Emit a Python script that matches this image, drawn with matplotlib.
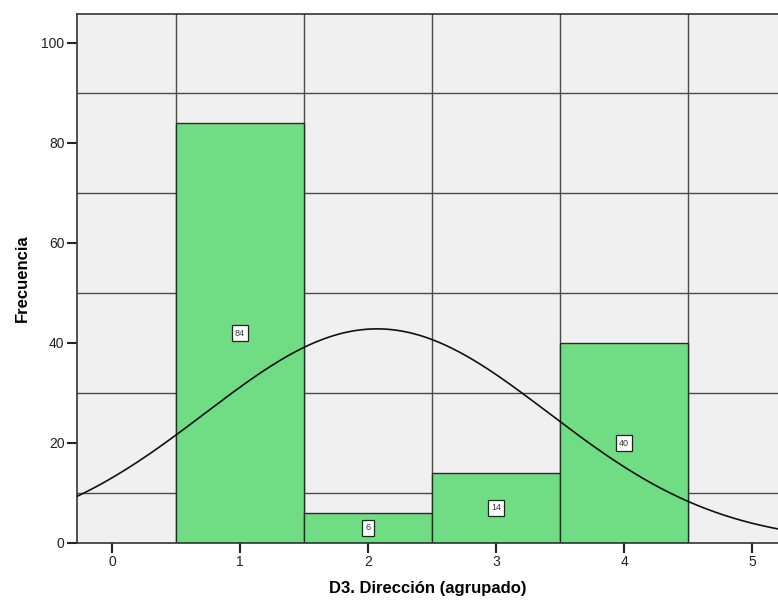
import numpy as np
import matplotlib
matplotlib.use("Agg")
import matplotlib.pyplot as plt

# histogram data
categories = [1, 2, 3, 4]
counts = [84, 6, 14, 40]
x_ticks = [0, 1, 2, 3, 4, 5]
y_ticks = [0, 20, 40, 60, 80, 100]

plt.rcParams["font.family"] = ["Liberation Sans", "DejaVu Sans"]

fig = plt.figure(figsize=(7.78, 6.01), dpi=100)
ax = fig.add_axes([77 / 778, 58 / 601, 1 - 77 / 778, 529 / 601])
ax.set_facecolor("#f0f0f0")

ax.set_xlim(-0.273, 5.2)
ax.set_ylim(0, 105.8)

# grid like SPSS: vertical at bin edges, horizontal between tick marks
for gx in np.arange(0.5, 5.0, 1.0):
    ax.axvline(gx, color="#4a4a4a", lw=1.0, zorder=1)
for gy in [10, 30, 50, 70, 90]:
    ax.axhline(gy, color="#4a4a4a", lw=1.0, zorder=1)

ax.bar(categories, counts, width=1.0, color="#70dc84", edgecolor="#2a2a2a",
       linewidth=1.0, zorder=2)

for c, n in zip(categories, counts):
    ax.text(c, n / 2, str(n), ha="center", va="center", fontsize=6.5, color="#333333",
            bbox=dict(boxstyle="square,pad=0.35", fc="white", ec="#222222", lw=0.9),
            zorder=4)

# fitted normal curve
vals = np.repeat(categories, counts)
mu = vals.mean()
sd = vals.std(ddof=1)
xs = np.linspace(-0.3, 5.25, 400)
ys = len(vals) * 1.0 / (sd * np.sqrt(2 * np.pi)) * np.exp(-0.5 * ((xs - mu) / sd) ** 2)
ax.plot(xs, ys, color="#111111", lw=1.2, zorder=3)

ax.set_xticks(x_ticks)
ax.set_yticks(y_ticks)
ax.tick_params(axis="both", length=7, width=1.5, color="#222222", labelsize=10,
               labelcolor="#222222", pad=2)

for side in ["left", "bottom", "top"]:
    ax.spines[side].set_color("#333333")
    ax.spines[side].set_linewidth(1.2)
ax.spines["right"].set_visible(False)

ax.set_xlabel("D3. Dirección (agrupado)", fontsize=12, fontweight="bold", labelpad=8)
ax.set_ylabel("Frecuencia", fontsize=12, fontweight="bold", labelpad=8)

fig.savefig("out.png", dpi=100)
